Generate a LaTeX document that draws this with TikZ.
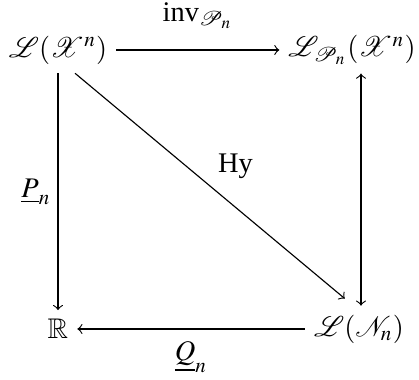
\documentclass[tikz,border=0pt]{standalone}
\usepackage{mathptmx}
\usepackage{mathrsfs}
\usepackage{amssymb}
\usepackage{fontspec}
\setmainfont{Liberation Serif}
\begin{document}
\begin{tikzpicture}[x=0.352pt,y=-0.352pt,>=to,
  obj/.style={inner sep=3pt},
  lab/.style={inner sep=0pt},
  arr/.style={draw,thin}]
\useasboundingbox (0,0) rectangle (419,380);
\node[obj] (lx) at (58,50) {$\mathscr{L}(\mathscr{X}^n)$};
\node[obj] (lp) at (352,50) {$\mathscr{L}_{\mathscr{P}_n}(\mathscr{X}^n)$};
\node[obj] (r) at (58,329) {$\mathbb{R}$};
\node[obj] (ln) at (359,329) {$\mathscr{L}(\mathscr{N}_n)$};
\draw[arr,->] (lx) -- node[lab,midway,yshift=12pt] {inv$_{\mathscr{P}_n}$} (lp);
\draw[arr,->] (lx) -- node[lab,midway,xshift=-7.7pt] {$\underline{P}_n$} (r);
\draw[arr,->] ([xshift=6pt]lx.south) -- node[lab,midway,xshift=9pt,yshift=7pt] {Hy} ([xshift=-5pt,yshift=2.5pt]ln.north);
\draw[arr,->] (ln) -- node[lab,midway,yshift=-10pt] {$\underline{Q}_n$} (r);
\draw[arr,<->] (ln.north -| 361,0) -- (lp.south -| 361,0);
\end{tikzpicture}
\end{document}
